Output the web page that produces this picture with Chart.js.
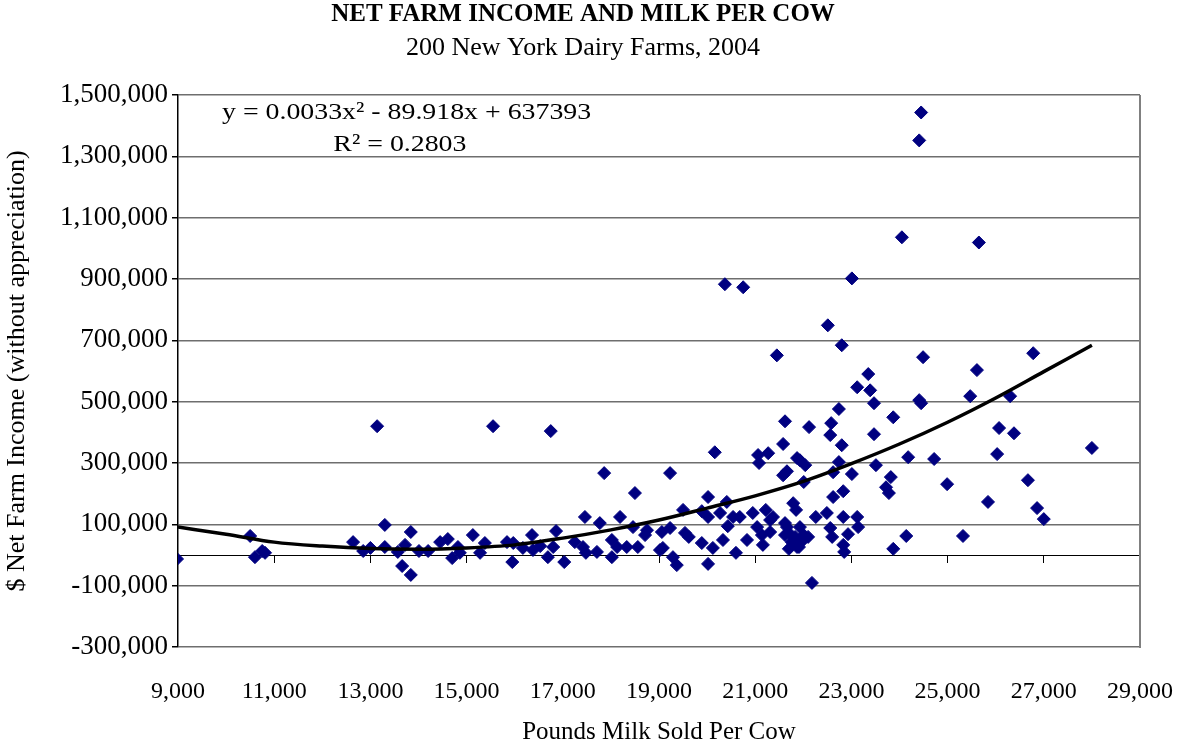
<!DOCTYPE html>
<html>
<head>
<meta charset="utf-8">
<script src="https://cdn.jsdelivr.net/npm/chart.js@4.4.1/dist/chart.umd.min.js"></script>
<style>
  html, body { margin: 0; padding: 0; background: #fff; }
</style>
</head>
<body>
<canvas id="farm" width="1182" height="749"></canvas>
<script>
// milk sold per cow (lbs) and net farm income ($)
var milkPerCow = [8980, 10500, 10600, 10750, 10810, 12640, 12850, 13000, 13140, 13300,
  13300, 13570, 13660, 13720, 13840, 13840, 14010, 14200, 14450, 14610,
  14700, 14820, 14860, 15130, 15280, 15380, 15550, 15840, 15950, 15970,
  16170, 16360, 16380, 16530, 16690, 16750, 16800, 16860, 17030, 17250,
  17420, 17460, 17480, 17710, 17770, 17860, 18020, 18020, 18130, 18190,
  18330, 18460, 18500, 18560, 18710, 18750, 19020, 19060, 19080, 19230,
  19230, 19290, 19370, 19500, 19540, 19620, 19890, 19890, 20020, 20020,
  20020, 20120, 20160, 20270, 20330, 20410, 20430, 20370, 20750, 20540,
  20600, 20680, 20830, 20950, 21040, 21060, 21270, 21140, 21160, 21220,
  21310, 21370, 21450, 21580, 21580, 21620, 21660, 21790, 21830, 21870,
  21870, 22120, 22580, 22740, 22560, 22800, 23120, 23390, 23470, 24450,
  23470, 23870, 24180, 21930, 22040, 22740, 22620, 23010, 23510, 21660,
  22010, 23820, 23720, 23780, 22830, 22620, 21850, 22490, 22260, 22830,
  23120, 23140, 21620, 21930, 22010, 21700, 21760, 21910, 22560, 22600,
  22930, 22830, 22850, 23870, 24140, 22180, 23010, 22510, 22800, 23350,
  24490, 24450, 24410, 24050, 25650, 26780, 25610, 25470, 26300, 26070,
  26380, 28000, 24720, 26030, 24990, 26670, 25840, 26860, 27000, 25320,
  21080, 21310, 21620, 22100, 24410, 21700, 21980];
var netIncome = [-13000, 62000, -7000, 13000, 7000, 42000, 13000, 23000, 420000, 98000,
  26000, 10000, -36000, 33000, -65000, 75000, 13000, 13000, 42000, 52000,
  -10000, 26000, 7000, 65000, 7000, 39000, 420000, 42000, -23000, 39000,
  23000, 65000, 16000, 29000, -7000, 404000, 26000, 78000, -23000, 42000,
  26000, 124000, 7000, 10000, 104000, 267000, 49000, -7000, 26000, 124000,
  26000, 91000, 202000, 26000, 65000, 81000, 16000, 75000, 23000, 267000,
  88000, -7000, -33000, 147000, 72000, 59000, 39000, 143000, 189000, 124000,
  -29000, 23000, 335000, 137000, 49000, 173000, 94000, 883000, 873000, 124000,
  7000, 124000, 49000, 137000, 91000, 326000, 332000, 65000, 33000, 147000,
  114000, 124000, 651000, 362000, 260000, 436000, 91000, 169000, 59000, 316000,
  26000, 417000, 430000, 476000, 391000, 358000, 547000, 537000, 495000, 495000,
  394000, 449000, 319000, 309000, 293000, 303000, 270000, 264000, 293000, 273000,
  238000, 254000, 221000, 202000, 208000, 189000, 147000, 137000, 124000, 124000,
  124000, 91000, 104000, 91000, 65000, 72000, 42000, 26000, 88000, 59000,
  68000, 33000, 10000, 20000, 62000, -91000, 902000, 749000, 684000, 590000,
  645000, 1443000, 1352000, 1036000, 1019000, 658000, 603000, 518000, 518000, 414000,
  397000, 349000, 313000, 329000, 231000, 244000, 173000, 153000, 117000, 62000,
  300000, 75000, 65000, 59000, 505000, 20000, 46000];

// polynomial trendline as Excel drew it
var trendMilk = [9000, 10000, 11000, 12000, 13000, 14000, 15000, 16000, 17000, 18000,
  19000, 20000, 21000, 22000, 23000, 24000, 25000, 26000, 27000, 28000];
var trendIncome = [91000, 68000, 42000, 29000, 21000, 19000, 23000, 33000, 55000, 82000,
  114000, 153000, 193000, 240000, 298000, 362000, 433000, 512000, 598000, 684000];

var xTicksMin = 9000, xTicksMax = 29000, xStep = 2000;
var yTicksMin = -300000, yTicksMax = 1500000, yStep = 200000;

var serif = "'Liberation Serif', 'Times New Roman', serif";

var farms = milkPerCow.map(function (m, i) { return { x: m, y: netIncome[i] }; });
var trend = trendMilk.map(function (m, i) { return { x: m, y: trendIncome[i] }; });

function fmt(v) { return Number(v).toLocaleString('en-US'); }

// titles, right frame and the trendline equation
var extras = {
  id: 'extras',
  beforeDraw: function (chart) {
    var ctx = chart.ctx;
    ctx.save();
    ctx.fillStyle = '#000';
    ctx.textAlign = 'center';
    ctx.textBaseline = 'middle';
    ctx.font = 'bold 25px ' + serif;
    ctx.fillText('NET FARM INCOME AND MILK PER COW', 583, 15);
    ctx.font = '26px ' + serif;
    ctx.fillText('200 New York Dairy Farms, 2004', 583, 48);
    ctx.restore();
  },
  beforeDatasetsDraw: function (chart) {
    var a = chart.chartArea, ctx = chart.ctx;
    ctx.save();
    ctx.strokeStyle = '#808080';
    ctx.lineWidth = 2;
    ctx.beginPath();
    ctx.moveTo(a.right, a.top);
    ctx.lineTo(a.right, a.bottom + 1);
    ctx.stroke();
    ctx.restore();
  },
  afterDatasetsDraw: function (chart) {
    var a = chart.chartArea, ctx = chart.ctx;
    ctx.save();
    ctx.fillStyle = '#000';
    ctx.font = '24px ' + serif;
    ctx.textBaseline = 'middle';
    ctx.translate(a.left + 44, a.top + 18);
    ctx.scale(1.16, 1);
    ctx.fillText('y = 0.0033x\u00b2 - 89.918x + 637393', 0, 0);
    ctx.fillText('R\u00b2 = 0.2803', 96, 32);
    ctx.restore();
  }
};

new Chart(document.getElementById('farm').getContext('2d'), {
  data: {
    datasets: [{
      type: 'line',
      label: 'Trend',
      data: trend,
      borderColor: '#000',
      borderWidth: 3.5,
      pointRadius: 0,
      cubicInterpolationMode: 'monotone',
      fill: false,
      order: 0
    }, {
      type: 'scatter',
      label: 'Farms',
      data: farms,
      pointStyle: 'rectRot',
      pointRadius: 6.5,
      backgroundColor: '#000080',
      borderColor: '#000080',
      borderWidth: 1,
      order: 1
    }]
  },
  options: {
    responsive: false,
    animation: false,
    layout: { padding: { top: 95, right: 42, bottom: 0, left: 0 } },
    plugins: {
      legend: { display: false },
      tooltip: { enabled: false },
      title: { display: false },
      subtitle: { display: false }
    },
    scales: {
      x: {
        type: 'linear',
        position: { y: 0 },
        min: xTicksMin, max: xTicksMax,
        ticks: { stepSize: xStep, display: false },
        grid: { drawOnChartArea: false, drawTicks: true, tickLength: 7, tickColor: '#000' },
        border: { color: '#000', width: 1 }
      },
      x2: {
        type: 'linear',
        axis: 'x',
        position: 'bottom',
        min: xTicksMin, max: xTicksMax,
        afterFit: function (s) {
          s.height = 102;
          s.paddingLeft = 0;
          s.paddingRight = 0;
        },
        ticks: {
          stepSize: xStep, color: '#000', padding: 30, maxRotation: 0,
          font: { family: serif, size: 24 },
          callback: function (v) { return fmt(v); }
        },
        grid: { display: false, drawTicks: false },
        border: { display: false },
        title: {
          display: true,
          text: 'Pounds Milk Sold Per Cow',
          color: '#000',
          font: { family: serif, size: 25 },
          padding: { top: 0, bottom: 2 }
        }
      },
      y: {
        type: 'linear',
        min: yTicksMin, max: yTicksMax,
        afterFit: function (s) {
          s.width = 178;
          s.paddingTop = 0;
          s.paddingBottom = 0;
        },
        ticks: {
          stepSize: yStep, color: '#000', padding: 4,
          font: { family: serif, size: 27 },
          callback: function (v) { return fmt(v); }
        },
        grid: { color: '#6e6e6e', lineWidth: 1.5, tickColor: '#000', tickLength: 6 },
        border: { color: '#000', width: 1.5 },
        title: {
          display: true,
          text: '$ Net Farm Income (without appreciation)',
          color: '#000',
          font: { family: serif, size: 26 },
          padding: { top: 2, bottom: 0 }
        }
      }
    }
  },
  plugins: [extras]
});
</script>
</body>
</html>
